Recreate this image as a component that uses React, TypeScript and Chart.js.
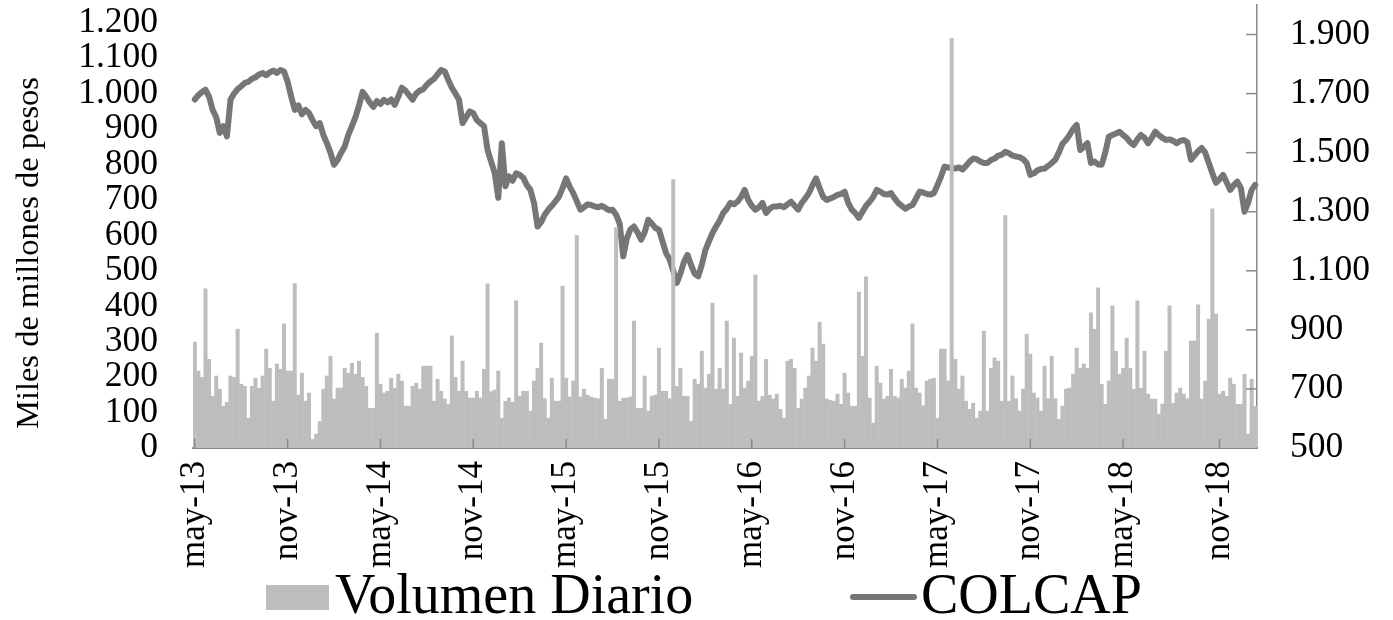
import React, { useEffect, useRef } from 'react';
import { Chart, registerables } from 'chart.js';

Chart.register(...registerables);

// Weekly samples, May 2013 – Jan 2019
const volumenDiario = [
  300, 218, 200, 450, 251, 147, 204, 167, 119, 130,
  204, 200, 336, 181, 175, 85, 175, 198, 170, 204,
  280, 226, 133, 238, 223, 351, 218, 218, 465, 150,
  212, 133, 156, 25, 40, 76, 167, 204, 260, 139,
  170, 170, 226, 212, 240, 209, 246, 200, 175, 113,
  113, 325, 181, 156, 161, 198, 170, 209, 190, 119,
  119, 175, 184, 167, 232, 232, 232, 133, 195, 161,
  139, 124, 317, 200, 161, 246, 161, 142, 142, 161,
  142, 223, 464, 160, 165, 218, 85, 133, 142, 130,
  416, 147, 161, 161, 105, 190, 226, 297, 140, 85,
  198, 133, 133, 458, 198, 145, 190, 600, 145, 167,
  150, 145, 142, 140, 226, 82, 195, 195, 623, 133,
  142, 142, 145, 359, 113, 113, 204, 105, 147, 150,
  283, 161, 161, 140, 758, 175, 226, 147, 147, 76,
  195, 181, 274, 170, 209, 410, 167, 226, 167, 359,
  124, 311, 147, 269, 170, 190, 260, 489, 133, 147,
  251, 150, 139, 153, 110, 85, 246, 251, 226, 113,
  139, 170, 204, 283, 246, 356, 294, 139, 135, 133,
  153, 124, 212, 156, 119, 119, 441, 260, 484, 142,
  71, 232, 184, 139, 147, 223, 147, 142, 195, 170,
  218, 351, 170, 156, 120, 190, 195, 198, 85, 280,
  280, 190, 1157, 251, 167, 204, 133, 110, 127, 85,
  105, 331, 105, 226, 255, 246, 133, 657, 133, 204,
  140, 105, 167, 322, 266, 156, 142, 105, 232, 140,
  260, 140, 82, 119, 167, 170, 209, 283, 226, 238,
  226, 382, 336, 453, 181, 124, 190, 402, 274, 209,
  226, 311, 226, 167, 416, 170, 274, 153, 139, 139,
  96, 125, 274, 402, 127, 156, 170, 153, 140, 303,
  303, 405, 139, 190, 365, 676, 379, 153, 161, 147,
  198, 181, 124, 124, 209, 40, 195, 119,
];

const colcap = [
  1680, 1695, 1705, 1713, 1690, 1645, 1620, 1567, 1590, 1555,
  1679, 1700, 1715, 1725, 1736, 1740, 1750, 1755, 1765, 1770,
  1762, 1772, 1778, 1770, 1780, 1775, 1740, 1690, 1645, 1660,
  1630, 1645, 1634, 1610, 1590, 1600, 1560, 1532, 1500, 1459,
  1475, 1500, 1521, 1560, 1590, 1620, 1660, 1706, 1690, 1670,
  1655, 1675, 1665, 1679, 1670, 1680, 1662, 1690, 1720, 1710,
  1695, 1679, 1700, 1710, 1715, 1730, 1741, 1750, 1765, 1780,
  1775, 1746, 1720, 1700, 1679, 1600, 1620, 1640, 1634, 1610,
  1600, 1590, 1509, 1470, 1431, 1347, 1532, 1386, 1420, 1405,
  1430, 1425, 1415, 1390, 1374, 1330, 1250, 1265, 1290, 1307,
  1320, 1335, 1351, 1380, 1413, 1385, 1363, 1335, 1307, 1315,
  1325, 1323, 1318, 1315, 1320, 1313, 1305, 1307, 1290, 1260,
  1149, 1210, 1240, 1250, 1230, 1205, 1230, 1273, 1260, 1245,
  1239, 1200, 1160, 1138, 1100, 1059, 1090, 1130, 1154, 1120,
  1090, 1081, 1120, 1170, 1200, 1228, 1250, 1270, 1296, 1310,
  1330, 1325, 1334, 1350, 1374, 1340, 1320, 1307, 1315, 1330,
  1296, 1310, 1318, 1318, 1320, 1315, 1325, 1334, 1320, 1307,
  1330, 1345, 1363, 1390, 1413, 1380, 1350, 1340, 1345, 1350,
  1357, 1360, 1368, 1330, 1307, 1295, 1279, 1300, 1320, 1334,
  1350, 1374, 1368, 1360, 1358, 1363, 1345, 1330, 1320, 1310,
  1318, 1323, 1345, 1368, 1365, 1360, 1358, 1363, 1390, 1419,
  1453, 1450, 1448, 1446, 1450, 1443, 1455, 1470, 1480, 1478,
  1470, 1465, 1465, 1475, 1480, 1490, 1493, 1503, 1498, 1490,
  1487, 1485, 1478, 1465, 1425, 1430, 1440, 1445, 1446, 1455,
  1465, 1476, 1500, 1530, 1543, 1560, 1580, 1594, 1509, 1520,
  1532, 1465, 1470, 1460, 1459, 1500, 1554, 1560, 1565, 1571,
  1560, 1550, 1535, 1526, 1545, 1560, 1550, 1532, 1550, 1571,
  1560, 1550, 1543, 1545, 1540, 1532, 1540, 1543, 1535, 1476,
  1490, 1505, 1516, 1500, 1465, 1430, 1398, 1410, 1425, 1400,
  1374, 1390, 1402, 1380, 1300, 1330, 1374, 1391,
];

const startDate = Date.UTC(2013, 4, 3);
const weekLabels = volumenDiario.map((_, i) =>
  new Date(startDate + i * 7 * 86400000).toISOString().slice(0, 10)
);

const xTickText = ['may-13', 'nov-13', 'may-14', 'nov-14', 'may-15', 'nov-15', 'may-16', 'nov-16', 'may-17', 'nov-17', 'may-18', 'nov-18'];
const xTickWeek = [0, 26, 52, 78, 104, 130, 156, 182, 208, 234, 260, 287];
const leftTicks = [0, 100, 200, 300, 400, 500, 600, 700, 800, 900, 1000, 1100, 1200];
const rightTicks = [500, 700, 900, 1100, 1300, 1500, 1700, 1900];

const BAR = '#bdbdbd';
const LINE = '#767676';
const AXIS = '#8a8a8a';
const FONT = '"Liberation Serif", "Times New Roman", serif';

const fmt = (v: number) => String(v).replace(/\B(?=(\d{3})+(?!\d))/g, '.');

const noPad = (s: any) => {
  s.paddingTop = 0;
  s.paddingBottom = 0;
  s.paddingLeft = 0;
  s.paddingRight = 0;
};

const decor = {
  id: 'decor',
  afterDraw(chart: any) {
    const { ctx, chartArea: ca, scales } = chart;
    ctx.save();
    ctx.strokeStyle = AXIS;
    ctx.lineWidth = 1.5;
    // inward x tick marks
    xTickWeek.forEach((i) => {
      const x = scales.x.getPixelForValue(i);
      ctx.beginPath();
      ctx.moveTo(x, ca.bottom);
      ctx.lineTo(x, ca.bottom - 9);
      ctx.stroke();
    });
    // inward right-axis tick marks
    rightTicks.forEach((v) => {
      if (v === 500) return;
      const y = scales.yR.getPixelForValue(v);
      ctx.beginPath();
      ctx.moveTo(ca.right, y);
      ctx.lineTo(ca.right - 11, y);
      ctx.stroke();
    });
    // y-axis title
    ctx.fillStyle = '#000';
    ctx.font = `32.5px ${FONT}`;
    ctx.textAlign = 'center';
    ctx.textBaseline = 'middle';
    ctx.save();
    ctx.translate(29, 253);
    ctx.rotate(-Math.PI / 2);
    ctx.fillText('Miles de millones de pesos', 0, 0);
    ctx.restore();
    // legend
    const ds = chart.data.datasets;
    ctx.font = `56px ${FONT}`;
    ctx.textAlign = 'left';
    ctx.textBaseline = 'alphabetic';
    ctx.fillStyle = BAR;
    ctx.fillRect(266, 585, 63, 25);
    ctx.fillStyle = '#000';
    ctx.fillText(ds[0].label, 335, 613);
    ctx.strokeStyle = LINE;
    ctx.lineWidth = 6;
    ctx.lineCap = 'round';
    ctx.beginPath();
    ctx.moveTo(853, 597);
    ctx.lineTo(914, 597);
    ctx.stroke();
    ctx.fillText(ds[1].label, 921, 613);
    ctx.restore();
  },
};

export default function App() {
  const ref = useRef<HTMLCanvasElement>(null);
  useEffect(() => {
    if (!ref.current) return;
    Chart.defaults.font.family = FONT;
    Chart.defaults.color = '#000';
    const chart = new Chart(ref.current, {
      type: 'bar',
      data: {
        labels: weekLabels,
        datasets: [
          {
            type: 'bar',
            label: 'Volumen Diario',
            data: volumenDiario,
            backgroundColor: BAR,
            borderWidth: 0,
            barPercentage: 1.12,
            categoryPercentage: 1,
            yAxisID: 'y',
            order: 0,
          },
          {
            type: 'line',
            label: 'COLCAP',
            data: colcap,
            borderColor: LINE,
            backgroundColor: LINE,
            borderWidth: 6,
            pointRadius: 0,
            tension: 0,
            borderJoinStyle: 'round',
            borderCapStyle: 'round',
            yAxisID: 'yR',
            order: 1,
          },
        ],
      } as any,
      options: {
        responsive: false,
        animation: false,
        devicePixelRatio: 1,
        layout: { padding: { top: 5, left: 0, right: 0, bottom: 0 } },
        plugins: { legend: { display: false }, tooltip: { enabled: false }, title: { display: false } },
        scales: {
          x: {
            grid: { display: false, drawTicks: false },
            border: { display: true, color: AXIS, width: 2 },
            ticks: {
              autoSkip: false,
              minRotation: 90,
              maxRotation: 90,
              padding: 13,
              font: { size: 35, family: FONT },
              color: '#000',
              callback: (_v: any, i: number) => {
                const k = xTickWeek.indexOf(i);
                return k >= 0 ? xTickText[k] : '';
              },
            },
            afterFit: (s: any) => { s.height = 172; noPad(s); },
          },
          y: {
            position: 'left',
            min: 0,
            max: 1250,
            grid: { display: false, drawTicks: false },
            border: { display: false },
            ticks: { autoSkip: false, padding: 35, font: { size: 35.5, family: FONT }, color: '#000', callback: (v: any) => fmt(Number(v)) },
            afterBuildTicks: (s: any) => { s.ticks = leftTicks.map((value) => ({ value })); },
            afterFit: (s: any) => { s.width = 193; noPad(s); },
          },
          yR: {
            position: 'right',
            min: 500,
            max: 2000,
            grid: { display: false, drawTicks: false },
            border: { display: true, color: AXIS, width: 1.5 },
            ticks: { autoSkip: false, padding: 33, font: { size: 35.5, family: FONT }, color: '#000', callback: (v: any) => fmt(Number(v)) },
            afterBuildTicks: (s: any) => { s.ticks = rightTicks.map((value) => ({ value })); },
            afterFit: (s: any) => { s.width = 136; noPad(s); },
          },
        },
      } as any,
      plugins: [decor],
    });
    return () => chart.destroy();
  }, []);
  return (
    <div style={{ position: 'absolute', left: 0, top: 0, width: 1393, height: 620, background: '#fff' }}>
      <canvas ref={ref} width={1393} height={620} />
    </div>
  );
}
